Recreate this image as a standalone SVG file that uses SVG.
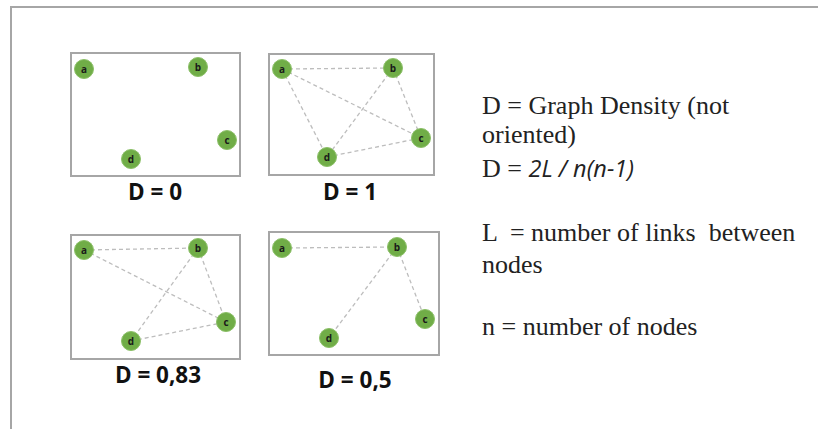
<svg xmlns="http://www.w3.org/2000/svg" width="818" height="429" viewBox="0 0 818 429">
<style>
.frame{fill:none;stroke:#a6a6a6;stroke-width:2}
.box{fill:#fff;stroke:#a6a6a6;stroke-width:2}
.node{fill:#70ad47;stroke:#8cc068;stroke-width:1}
.nl{font-family:"Open Sans","DejaVu Sans",sans-serif;font-weight:bold;font-size:10px;fill:#1a1a1a;text-anchor:middle}
.edge{stroke:#bdbdbd;stroke-width:1.3;stroke-dasharray:4 3;fill:none}
.lab{font-family:"Open Sans","DejaVu Sans",sans-serif;font-weight:bold;font-size:22.5px;fill:#111;text-anchor:middle}
.tx{font-family:"Liberation Serif","Times New Roman",serif;font-size:26px;fill:#222}
.it{font-family:"Open Sans","Liberation Sans",sans-serif;font-style:italic;font-size:23.5px}
</style>
<rect width="818" height="429" fill="#fff"/>
<path class="frame" d="M11,440 V7 H830"/>
<g id="box1"><rect class="box" x="71" y="53" width="169" height="123"/></g>
<g id="box2"><rect class="box" x="269" y="54" width="165" height="121"/></g>
<g id="box3"><rect class="box" x="71" y="235" width="169" height="124"/></g>
<g id="box4"><rect class="box" x="269" y="232" width="170" height="123"/></g>
<g id="connectors">
<line class="edge" x1="282" y1="69" x2="393" y2="68"/>
<line class="edge" x1="282" y1="69" x2="421" y2="138"/>
<line class="edge" x1="282" y1="69" x2="327" y2="157"/>
<line class="edge" x1="393" y1="68" x2="421" y2="138"/>
<line class="edge" x1="393" y1="68" x2="327" y2="157"/>
<line class="edge" x1="327" y1="157" x2="421" y2="138"/>
<line class="edge" x1="84" y1="250" x2="198" y2="248"/>
<line class="edge" x1="84" y1="250" x2="226" y2="322"/>
<line class="edge" x1="198" y1="248" x2="226" y2="322"/>
<line class="edge" x1="198" y1="248" x2="131" y2="341"/>
<line class="edge" x1="131" y1="341" x2="226" y2="322"/>
<line class="edge" x1="282" y1="248" x2="397" y2="247"/>
<line class="edge" x1="397" y1="247" x2="329" y2="338"/>
<line class="edge" x1="397" y1="247" x2="425" y2="319"/>
</g>
<g id="g1-a"><circle class="node" cx="84" cy="69" r="9.5"/><text class="nl" x="84" y="72.5">a</text></g>
<g id="g1-b"><circle class="node" cx="198" cy="67" r="9.5"/><text class="nl" x="198" y="70.5">b</text></g>
<g id="g1-c"><circle class="node" cx="227" cy="140" r="9.5"/><text class="nl" x="227" y="143.5">c</text></g>
<g id="g1-d"><circle class="node" cx="131" cy="159" r="9.5"/><text class="nl" x="131" y="162.5">d</text></g>
<g id="g2-a"><circle class="node" cx="282" cy="69" r="9.5"/><text class="nl" x="282" y="72.5">a</text></g>
<g id="g2-b"><circle class="node" cx="393" cy="68" r="9.5"/><text class="nl" x="393" y="71.5">b</text></g>
<g id="g2-c"><circle class="node" cx="421" cy="138" r="9.5"/><text class="nl" x="421" y="141.5">c</text></g>
<g id="g2-d"><circle class="node" cx="327" cy="157" r="9.5"/><text class="nl" x="327" y="160.5">d</text></g>
<g id="g3-a"><circle class="node" cx="84" cy="250" r="9.5"/><text class="nl" x="84" y="253.5">a</text></g>
<g id="g3-b"><circle class="node" cx="198" cy="248" r="9.5"/><text class="nl" x="198" y="251.5">b</text></g>
<g id="g3-c"><circle class="node" cx="226" cy="322" r="9.5"/><text class="nl" x="226" y="325.5">c</text></g>
<g id="g3-d"><circle class="node" cx="131" cy="341" r="9.5"/><text class="nl" x="131" y="344.5">d</text></g>
<g id="g4-a"><circle class="node" cx="282" cy="248" r="9.5"/><text class="nl" x="282" y="251.5">a</text></g>
<g id="g4-b"><circle class="node" cx="397" cy="247" r="9.5"/><text class="nl" x="397" y="250.5">b</text></g>
<g id="g4-c"><circle class="node" cx="425" cy="319" r="9.5"/><text class="nl" x="425" y="322.5">c</text></g>
<g id="g4-d"><circle class="node" cx="329" cy="338" r="9.5"/><text class="nl" x="329" y="341.5">d</text></g>
<g id="labels">
<text class="lab" x="155" y="200">D = 0</text>
<text class="lab" x="350" y="200">D = 1</text>
<text class="lab" x="158" y="383">D = 0,83</text>
<text class="lab" x="355" y="388">D = 0,5</text>
</g>
<g id="legend">
<text class="tx" x="482" y="114">D = Graph Density (not</text>
<text class="tx" x="482" y="143">oriented)</text>
<text class="tx" x="482" y="177">D = <tspan class="it">2L / n(n-1)</tspan></text>
<text class="tx" x="482" y="241" xml:space="preserve">L  = number of links  between</text>
<text class="tx" x="482" y="273">nodes</text>
<text class="tx" x="482" y="335">n = number of nodes</text>
</g>
</svg>
